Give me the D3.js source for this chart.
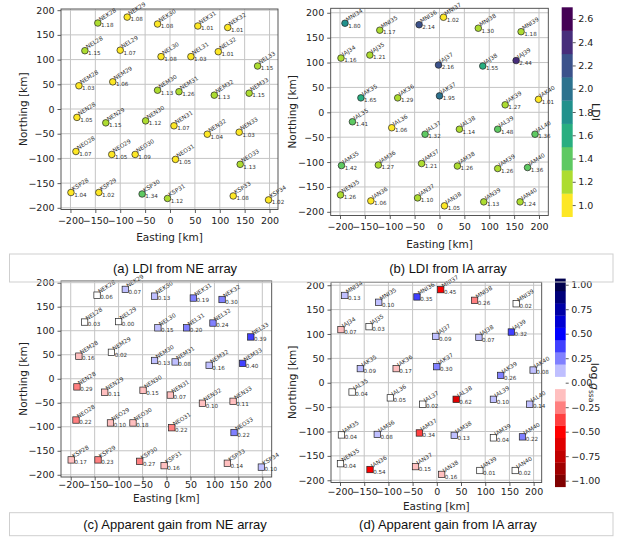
<!DOCTYPE html>
<html><head><meta charset="utf-8">
<script src="https://cdn.jsdelivr.net/npm/d3@7"></script>
<style>
body{margin:0;background:#fff}
svg{display:block}
</style>
</head><body>
<svg id="chart" width="620" height="539" font-family="DejaVu Sans, sans-serif"></svg>
<script>
// ---------- NE array stations (panels a, c) ----------
const neNames = ["NEK28","NEK29","NEK30","NEK31","NEK32","NEL28","NEL29","NEL30","NEL31","NEL32","NEL33",
  "NEM28","NEM29","NEM30","NEM31","NEM32","NEM33","NEN28","NEN29","NEN30","NEN31","NEN32","NEN33",
  "NEO28","NEO29","NEO30","NEO31","NEO33","KSP28","KSP29","KSP30","KSP31","KSP33","KSP34"];
const neEasting = [-145,-86,-25,56,116,-171,-100,-18,42,97,176,
  -183,-115,-25,18,89,159,-187,-129,-49,8,75,139,
  -189,-117,-70,11,141,-199,-143,-56,-5,127,198];
const neNorthing = [174,186,172,168,165,118,119,106,106,116,87,
  47,55,38,35,28,32,-17,-28,-24,-34,-51,-47,
  -86,-92,-92,-102,-112,-169,-169,-172,-181,-176,-184];
const neLDI = [1.18,1.08,1.08,1.01,1.01,1.15,1.07,1.08,1.03,1.01,1.15,
  1.03,1.06,1.13,1.26,1.13,1.15,1.05,1.15,1.12,1.07,1.04,1.03,
  1.07,1.05,1.09,1.05,1.13,1.04,1.02,1.34,1.12,1.08,1.02];
const neGain = [0.06,0.07,0.13,0.19,0.30,0.03,0.00,0.15,0.20,0.24,0.39,
  -0.16,0.02,0.13,0.08,0.16,0.40,-0.29,-0.11,-0.15,-0.07,-0.10,-0.11,
  -0.22,-0.10,-0.18,-0.22,0.22,-0.17,-0.23,-0.27,-0.16,-0.14,0.10];

// ---------- IA array stations (panels b, d) ----------
const iaNames = ["MNI34","MNI35","MNI36","MNI37","MNI38","MNI39","IAJ34","IAJ35","IAJ37","IAJ38","IAJ39",
  "IAK35","IAK36","IAK37","IAK39","IAK40","IAL35","IAL36","IAL37","IAL38","IAL39","IAL40",
  "IAM35","IAM36","IAM37","IAM38","IAM39","IAM40","NEN35","IAN36","IAN37","IAN38","IAN39","IAN40"];
const iaEasting = [-190,-120,-41,8,78,164,-198,-140,-2,87,154,
  -158,-84,0,132,199,-175,-96,-29,40,117,192,
  -197,-123,-36,36,117,177,-199,-138,-44,10,89,162];
const iaNorthing = [179,165,176,191,169,162,109,115,95,93,104,
  29,29,33,15,26,-19,-31,-44,-34,-34,-44,
  -107,-106,-103,-108,-113,-111,-166,-178,-172,-188,-180,-180];
const iaLDI = [1.80,1.17,2.14,1.02,1.296,1.18,1.16,1.21,2.16,1.55,2.44,
  1.65,1.29,1.95,1.27,1.01,1.41,1.06,1.32,1.14,1.48,1.36,
  1.42,1.27,1.21,1.26,1.26,1.36,1.26,1.06,1.104,1.05,1.13,1.24];
const iaGain = [0.13,0.10,0.35,-0.45,-0.26,0.02,-0.07,0.03,0.09,0.07,0.32,
  0.09,-0.17,0.30,0.26,0.08,0.04,0.05,0.02,-0.62,0.10,0.14,
  0.04,0.08,-0.34,0.13,0.04,0.22,0.04,-0.54,-0.15,-0.16,0.01,0.02];

// ---------- ticks / colour scales ----------
const axisTicks = [-200,-150,-100,-50,0,50,100,150,200];
const ldiBounds = [0.9,1.1,1.3,1.5,1.7,1.9,2.1,2.3,2.5,2.7];
const ldiColors = ["#fde725","#addc30","#5ec962","#28ae80","#21918c","#2c728e","#3b528b","#472d7b","#440154"];
const ldiTicks = [1.0,1.2,1.4,1.6,1.8,2.0,2.2,2.4,2.6];
const gainTicks = [-1.00,-0.75,-0.50,-0.25,0.00,0.25,0.50,0.75,1.00];
const gainLevels = [-1,-0.875,-0.75,-0.625,-0.5,-0.375,-0.25,-0.125,0,0.125,0.25,0.375,0.5,0.625,0.75,0.875,1];
const captions = ["(a) LDI from NE array","(b) LDI from IA array","(c) Apparent gain from NE array","(d) Apparent gain from IA array"];

const seismicR = d3.scaleLinear().domain([-1,-0.5,0,0.5,1])
  .range(["#800000","#ff0000","#ffffff","#0000ff","#00004d"]).interpolate(d3.interpolateRgb);
const gainStep = 0.125;
const gainColor = v => seismicR(Math.max(-1, Math.min(1, Math.round(v / gainStep) * gainStep)));
const ldiColor = d3.scaleThreshold().domain(ldiBounds.slice(1, -1)).range(ldiColors);

const svg = d3.select("#chart");
const fmt = d3.format(".2f");

const panels = [
  {names: neNames, xs: neEasting, ys: neNorthing, vals: neLDI, kind: "ldi",
   box: {l: 61, r: 278, t: 9, b: 209.5}, xd: [-219, 217], yd: [-203.4, 202.4], ylabX: 23, tickPad: 4.5, xlabOff: 31.5},
  {names: iaNames, xs: iaEasting, ys: iaNorthing, vals: iaLDI, kind: "ldi",
   box: {l: 330.7, r: 548.3, t: 8.3, b: 215.5}, xd: [-218.7, 218.7], yd: [-207.4, 209], ylabX: 292, tickPad: 4.5, xlabOff: 32},
  {names: neNames, xs: neEasting, ys: neNorthing, vals: neGain, kind: "gain",
   box: {l: 61, r: 271.7, t: 281, b: 477}, xd: [-220.3, 219.6], yd: [-204.6, 203.5], ylabX: 23, tickPad: 0.8, xlabOff: 24.5},
  {names: iaNames, xs: iaEasting, ys: iaNorthing, vals: iaGain, kind: "gain",
   box: {l: 331, r: 541.7, t: 282.3, b: 482.5}, xd: [-218.6, 216.7], yd: [-204.6, 206], ylabX: 292, tickPad: 2.5, xlabOff: 27}
];

panels.forEach(p => {
  const x = d3.scaleLinear().domain(p.xd).range([p.box.l, p.box.r]);
  const y = d3.scaleLinear().domain(p.yd).range([p.box.b, p.box.t]);
  const g = svg.append("g");
  // grid
  g.append("g").selectAll("line").data(axisTicks).join("line")
    .attr("x1", d => x(d)).attr("x2", d => x(d)).attr("y1", p.box.t).attr("y2", p.box.b)
    .attr("stroke", "#c4c4c4").attr("stroke-width", 1);
  g.append("g").selectAll("line").data(axisTicks).join("line")
    .attr("y1", d => y(d)).attr("y2", d => y(d)).attr("x1", p.box.l).attr("x2", p.box.r)
    .attr("stroke", "#c4c4c4").attr("stroke-width", 1);
  // axes
  const ax = g.append("g").attr("transform", `translate(0,${p.box.b})`)
    .call(d3.axisBottom(x).tickValues(axisTicks).tickSize(3.5).tickPadding(p.tickPad));
  const ay = g.append("g").attr("transform", `translate(${p.box.l},0)`)
    .call(d3.axisLeft(y).tickValues(axisTicks).tickSize(3.5).tickPadding(3));
  [ax, ay].forEach(a => {
    a.attr("font-family", null).attr("font-size", null);
    a.select(".domain").remove();
    a.selectAll("line").attr("stroke", "#333").attr("stroke-width", 0.8);
    a.selectAll("text").attr("font-size", 9.5).attr("fill", "#222");
  });
  // frame
  g.append("rect").attr("x", p.box.l).attr("y", p.box.t)
    .attr("width", p.box.r - p.box.l).attr("height", p.box.b - p.box.t)
    .attr("fill", "none").attr("stroke", "#444").attr("stroke-width", 0.9);
  // axis labels
  g.append("text").attr("x", (p.box.l + p.box.r) / 2).attr("y", p.box.b + p.xlabOff)
    .attr("text-anchor", "middle").attr("font-size", 10.5).attr("fill", "#222").text("Easting [km]");
  g.append("text").attr("transform", `translate(${p.ylabX + 3.8},${(p.box.t + p.box.b) / 2}) rotate(-90)`)
    .attr("text-anchor", "middle").attr("font-size", 10.5).attr("fill", "#222").text("Northing [km]");

  const idx = d3.range(p.names.length);
  // markers
  if (p.kind === "ldi") {
    g.append("g").selectAll("circle").data(idx).join("circle")
      .attr("cx", i => x(p.xs[i])).attr("cy", i => y(p.ys[i])).attr("r", 3.3)
      .attr("fill", i => ldiColor(p.vals[i])).attr("stroke", "#222").attr("stroke-width", 0.7);
  } else {
    const s = 6.4;
    g.append("g").selectAll("rect").data(idx).join("rect")
      .attr("x", i => x(p.xs[i]) - s / 2).attr("y", i => y(p.ys[i]) - s / 2)
      .attr("width", s).attr("height", s)
      .attr("fill", i => gainColor(p.vals[i])).attr("stroke", "#222").attr("stroke-width", 0.7);
  }
  // station labels
  g.append("g").selectAll("text").data(idx).join("text")
    .attr("transform", i => `translate(${x(p.xs[i]) + 2.6},${y(p.ys[i]) - 1.6}) rotate(-32)`)
    .attr("font-size", 5.8).attr("fill", "#333").text(i => p.names[i]);
  // value labels
  g.append("g").selectAll("text").data(idx).join("text")
    .attr("x", i => x(p.xs[i]) + 3.2).attr("y", i => y(p.ys[i]) + 4.3)
    .attr("font-size", 5.6).attr("fill", "#333").text(i => fmt(Math.abs(p.vals[i])));
});

// ---------- LDI colourbar ----------
{
  const cb = {l: 561.7, w: 11, t: 7.3, b: 216.7};
  const s = d3.scaleLinear().domain([ldiBounds[0], ldiBounds[ldiBounds.length - 1]]).range([cb.b, cb.t]);
  const g = svg.append("g");
  g.selectAll("rect").data(ldiColors).join("rect")
    .attr("x", cb.l).attr("width", cb.w)
    .attr("y", (c, i) => s(ldiBounds[i + 1])).attr("height", (c, i) => s(ldiBounds[i]) - s(ldiBounds[i + 1]) + 0.3)
    .attr("fill", c => c);
  const a = g.append("g").attr("transform", `translate(${cb.l + cb.w},0)`)
    .call(d3.axisRight(s).tickValues(ldiTicks).tickFormat(d3.format(".1f")).tickSize(3).tickPadding(2.5));
  a.attr("font-family", null).attr("font-size", null);
  a.select(".domain").remove();
  a.selectAll("line").attr("stroke", "#333").attr("stroke-width", 0.8);
  a.selectAll("text").attr("font-size", 9.5).attr("fill", "#222");
  g.append("text").attr("transform", `translate(592,112) rotate(90)`)
    .attr("text-anchor", "middle").attr("font-size", 11).attr("fill", "#222").text("LDI");
}

// ---------- gain colourbar ----------
{
  const cb = {l: 555, w: 10.7, t: 278.6, b: 486.8};
  const half = gainStep / 2;
  const s = d3.scaleLinear().domain([gainLevels[0] - half, gainLevels[gainLevels.length - 1] + half]).range([cb.b, cb.t]);
  const g = svg.append("g");
  g.selectAll("rect").data(gainLevels).join("rect")
    .attr("x", cb.l).attr("width", cb.w)
    .attr("y", v => s(v + half)).attr("height", v => s(v - half) - s(v + half) + 0.3)
    .attr("fill", v => seismicR(v));
  const a = g.append("g").attr("transform", `translate(${cb.l + cb.w},0)`)
    .call(d3.axisRight(s).tickValues(gainTicks).tickFormat(d3.format(".2f")).tickSize(3).tickPadding(2.5));
  a.attr("font-family", null).attr("font-size", null);
  a.select(".domain").remove();
  a.selectAll("line").attr("stroke", "#333").attr("stroke-width", 0.8);
  a.selectAll("text").attr("font-size", 9.5).attr("fill", "#222");
  const t = g.append("text").attr("transform", `translate(591,382.5) rotate(90)`)
    .attr("text-anchor", "middle").attr("font-size", 11).attr("fill", "#222");
  t.append("tspan").text("log ");
  t.append("tspan").attr("font-style", "italic").text("g");
  t.append("tspan").attr("font-size", 7.5).attr("dy", 2.5).text("ssa");
}

// ---------- caption boxes ----------
const capBoxes = [{t: 254, h: 28}, {t: 512.7, h: 23}];
capBoxes.forEach((b, k) => {
  svg.append("rect").attr("x", 9.5).attr("y", b.t).attr("width", 603.5).attr("height", b.h)
    .attr("fill", "none").attr("stroke", "#cfcfcf").attr("stroke-width", 1);
  [175, 448].forEach((cx, j) => {
    svg.append("text").attr("x", cx).attr("y", b.t + b.h / 2 + 4.5)
      .attr("text-anchor", "middle").style("font-family", "'Liberation Sans', Arial, sans-serif")
      .attr("font-size", 13).attr("fill", "#111").text(captions[k * 2 + j]);
  });
});
</script>
</body></html>
